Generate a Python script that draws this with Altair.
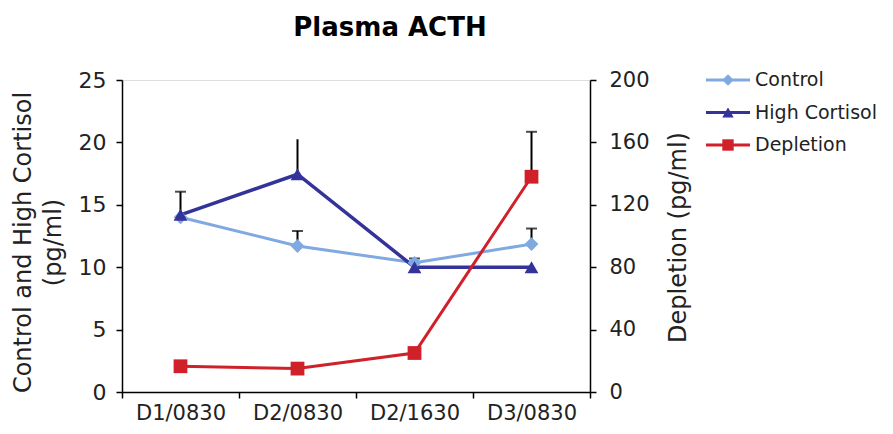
import altair as alt
import pandas as pd

times = ["D1/0830", "D2/0830", "D2/1630", "D3/0830"]
series_names = ["Control", "High Cortisol", "Depletion"]
series_colors = ["#80a9e1", "#333399", "#d0202a"]
series_shapes = ["diamond", "triangle-up", "square"]

control = [14.0, 11.7, 10.35, 11.85]
control_top = [None, 12.9, 10.7, 13.1]
control_cap = [False, True, True, True]

high = [14.2, 17.45, 10.0, 10.0]
high_top = [16.05, 20.25, None, None]
high_cap = [True, False, False, False]

depletion = [16.5, 15.0, 25.0, 138.0]
depletion_top = [None, None, None, 166.8]
depletion_cap = [False, False, False, True]

left_ticks = [0, 5, 10, 15, 20, 25]
right_ticks = [0, 40, 80, 120, 160, 200]

FONT = "DejaVu Sans"


def build(specs):
    rows = []
    for name, vals, tops, caps in specs:
        for t, v, top, c in zip(times, vals, tops, caps):
            rows.append({"series": name, "time": t, "value": v, "top": top, "cap": c})
    return pd.DataFrame(rows)


left_df = build([("Control", control, control_top, control_cap),
                 ("High Cortisol", high, high_top, high_cap)])
right_df = build([("Depletion", depletion, depletion_top, depletion_cap)])

x_enc = alt.X("time:N", sort=times,
              scale=alt.Scale(type="band", domain=times, paddingInner=0, paddingOuter=0),
              axis=alt.Axis(title=None, labelAngle=0, tickBand="extent", domainColor="black",
                            tickColor="black", domainWidth=1.5, tickWidth=1.5, tickSize=6,
                            labelFontSize=21, labelFont=FONT, labelColor="#222",
                            labelPadding=4, grid=False))

color_enc = alt.Color("series:N", scale=alt.Scale(domain=series_names, range=series_colors), legend=None)
shape_enc = alt.Shape("series:N", scale=alt.Scale(domain=series_names, range=series_shapes), legend=None)

left_axis = alt.Axis(values=left_ticks, title=["Control and High Cortisol", "(pg/ml)"], grid=False,
                     domainColor="black", tickColor="black", domainWidth=1.5, tickWidth=1.5,
                     tickSize=6, labelFontSize=22, labelFont=FONT, labelColor="#222",
                     labelPadding=10, titleFontSize=24, titleFont=FONT, titleFontWeight="normal",
                     titleColor="#222", titleAngle=270, titleAlign="center",
                     titleBaseline="alphabetic", titleX=-92, titleY=162, titleLineHeight=30)
right_axis = alt.Axis(orient="right", values=right_ticks, title="Depletion (pg/ml)", grid=False,
                      domainColor="black", tickColor="black", domainWidth=1.5, tickWidth=1.5,
                      tickSize=6, labelFontSize=21, labelFont=FONT, labelColor="#222",
                      labelPadding=13, titleFontSize=24, titleFont=FONT, titleFontWeight="normal",
                      titleColor="#222", titleAngle=270, titleAlign="center",
                      titleBaseline="middle", titleX=88, titleY=157)

left_scale = alt.Scale(domain=[0, 25], nice=False)
right_scale = alt.Scale(domain=[0, 200], nice=False)


def panel(df, scale, axis, widths):
    base = alt.Chart(df)
    y_val = alt.Y("value:Q", scale=scale, axis=axis)
    y_top = alt.Y("top:Q", scale=scale, axis=axis)
    err = base.mark_rule(color="black", strokeWidth=2).transform_filter(
        "isValid(datum.top)").encode(x=x_enc, y=y_val, y2="top:Q")
    cap = base.mark_tick(color="black", thickness=2, size=11, orient="horizontal").transform_filter(
        "datum.cap").encode(x=x_enc, y=y_top)
    lines = []
    for name, w in widths:
        lines.append(base.mark_line(strokeWidth=w).transform_filter(
            alt.datum.series == name).encode(x=x_enc, y=y_val, color=color_enc))
    pts = base.mark_point(filled=True, size=190, opacity=1).encode(
        x=x_enc, y=y_val, color=color_enc, shape=shape_enc)
    return alt.layer(err, cap, *lines, pts)


left = panel(left_df, left_scale, left_axis, [("Control", 3), ("High Cortisol", 3.5)])
right = panel(right_df, right_scale, right_axis, [("Depletion", 3)])

legend_df = pd.DataFrame({"series": series_names})
leg_y = alt.Y("series:N", sort=series_names,
              scale=alt.Scale(type="point", domain=series_names, range=[0, 65], padding=0), axis=None)
leg_base = alt.Chart(legend_df)
leg_line = leg_base.mark_rule(strokeWidth=3).encode(
    x=alt.value(584), x2=alt.value(628), y=leg_y, color=color_enc)
leg_pt = leg_base.mark_point(filled=True, size=130, opacity=1).encode(
    x=alt.value(606), y=leg_y, color=color_enc, shape=shape_enc)
leg_txt = leg_base.mark_text(align="left", baseline="middle", fontSize=19, font=FONT, color="#222").encode(
    x=alt.value(633), y=leg_y, text="series:N")
legend = alt.layer(leg_line, leg_pt, leg_txt)

chart = alt.layer(left, right, legend).resolve_scale(y="independent").properties(
    width=468, height=312,
    title=alt.TitleParams("Plasma ACTH", fontSize=26, fontWeight="bold", font=FONT,
                          anchor="middle", dx=34, offset=28, color="black"),
    autosize=alt.AutoSizeParams(type="none"),
    padding={"left": 114, "top": 72, "right": 295, "bottom": 34},
).configure_view(stroke=None, strokeWidth=0).configure_axis(grid=False, gridColor="red", gridWidth=3).configure(background="white")

chart.save("out.html", embed_options={"renderer": "svg", "actions": False})
